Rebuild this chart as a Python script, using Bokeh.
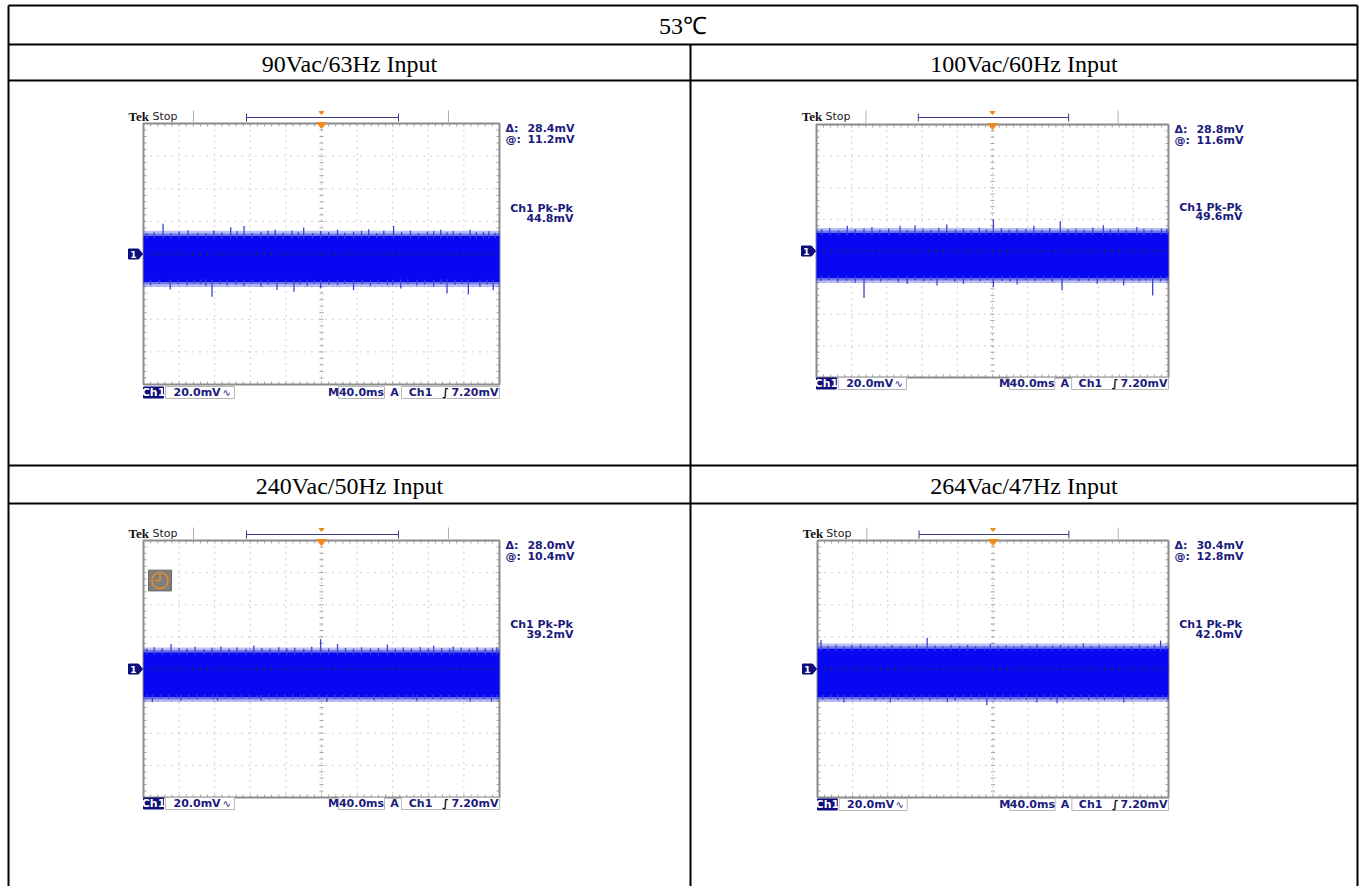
import numpy as np
from bokeh.plotting import figure
from bokeh.models import Range1d
from bokeh.core.properties import value
from bokeh.embed import file_html
from bokeh.resources import INLINE

# ---------------- data ----------------
table_title = "53℃"
panel_titles = ["90Vac/63Hz Input", "100Vac/60Hz Input", "240Vac/50Hz Input", "264Vac/47Hz Input"]
cursor_delta_mv = [28.4, 28.8, 28.0, 30.4]
cursor_at_mv = [11.2, 11.6, 10.4, 12.8]
pk_pk_mv = [44.8, 49.6, 39.2, 42.0]
ch1_scale_label = "20.0mV"
time_scale_label = "40.0ms"
trigger_level_label = "7.20mV"
mv_per_div = 20.0
ms_per_div = 40.0

# noise spikes above / below the dense band: time (ms), tip voltage (mV)
s1_up_t = [4, 12, 22, 31, 40, 50, 61, 70, 79, 88, 98, 105, 113, 122, 132, 140, 148, 157, 167, 174, 180, 190, 199, 208, 218, 226, 236, 245, 253, 262, 270, 281, 290, 300, 309, 319, 326, 334, 341, 348, 356, 367, 374, 382, 388, 395]
s1_up_v = [12.7, 13.4, 18.6, 12.9, 13.7, 14.6, 13.1, 12.8, 14.4, 13.2, 16.4, 13.9, 17.2, 12.9, 13.7, 14.2, 14.8, 13.0, 14.4, 13.6, 16.2, 12.8, 14.1, 13.5, 14.8, 13.1, 13.7, 14.3, 15.2, 12.9, 14.4, 17.2, 13.6, 14.4, 12.9, 13.7, 14.1, 14.8, 13.3, 14.1, 13.0, 14.8, 13.5, 13.7, 14.0, 13.1]
s1_dn_t = [8, 18, 30, 39, 49, 57, 64, 70, 77, 86, 94, 104, 113, 122, 132, 140, 150, 160, 169, 176, 184, 192, 199, 208, 218, 226, 236, 246, 255, 264, 274, 280, 289, 297, 307, 316, 326, 334, 341, 350, 358, 365, 378, 386, 393]
s1_dn_v = [-19.1, -18.2, -21.7, -18.6, -19.1, -18.0, -18.5, -19.6, -26.2, -18.4, -19.3, -18.9, -19.7, -18.3, -20.1, -18.7, -22.1, -18.5, -23.2, -18.9, -19.7, -18.2, -21.1, -18.8, -19.3, -18.4, -22.1, -18.6, -19.7, -18.3, -19.1, -18.8, -21.1, -18.5, -19.3, -18.7, -20.1, -18.4, -24.2, -18.9, -18.6, -24.8, -20.1, -18.7, -22.1]

s2_up_t = [6, 15, 25, 35, 44, 54, 63, 72, 82, 95, 103, 112, 121, 130, 139, 148, 158, 167, 176, 185, 193, 201, 210, 219, 228, 238, 247, 256, 265, 277, 286, 295, 304, 314, 326, 334, 343, 352, 364, 372, 381, 392, 398]
s2_up_v = [13.8, 14.6, 13.2, 15.9, 13.9, 14.3, 15.2, 13.6, 14.1, 15.9, 13.4, 16.3, 14.0, 13.5, 14.7, 16.7, 13.8, 14.2, 13.3, 14.9, 13.7, 19.8, 14.4, 13.6, 14.1, 13.9, 15.9, 13.5, 14.6, 18.8, 13.8, 14.3, 13.6, 14.8, 16.3, 13.7, 14.2, 13.4, 15.2, 14.0, 13.6, 14.2, 13.9]
s2_dn_t = [5, 14, 24, 34, 44, 54, 63, 73, 83, 93, 103, 112, 122, 130, 137, 147, 157, 167, 176, 186, 194, 201, 211, 220, 228, 238, 248, 258, 268, 279, 288, 298, 309, 319, 328, 338, 349, 358, 367, 374, 382, 391, 398]
s2_dn_v = [-19.0, -18.4, -19.6, -18.8, -20.1, -29.8, -18.6, -19.3, -18.2, -19.8, -20.7, -18.5, -19.1, -18.7, -21.8, -18.4, -19.5, -20.7, -18.6, -19.2, -18.3, -22.8, -18.9, -19.4, -21.2, -18.5, -19.0, -18.7, -19.6, -24.8, -18.4, -19.2, -18.8, -20.7, -18.6, -19.3, -21.8, -18.5, -19.0, -18.7, -28.1, -19.2, -18.6]

s3_up_t = [4, 12, 21, 31, 40, 49, 58, 68, 77, 87, 96, 105, 115, 124, 133, 142, 152, 161, 170, 180, 189, 199, 208, 218, 227, 236, 245, 255, 264, 274, 283, 292, 301, 311, 320, 326, 335, 344, 348, 357, 366, 375, 384, 392, 397]
s3_up_v = [12.6, 13.5, 12.9, 15.6, 13.1, 12.7, 13.8, 12.5, 13.2, 14.0, 12.8, 13.4, 12.6, 14.6, 13.0, 12.7, 13.6, 12.9, 13.3, 12.6, 13.9, 18.6, 12.8, 15.6, 13.2, 12.7, 13.5, 12.9, 13.1, 15.2, 12.6, 13.4, 12.8, 13.7, 12.9, 14.6, 13.0, 12.7, 14.0, 13.3, 12.8, 13.6, 12.9, 13.2, 13.5]
s3_dn_t = [4, 10, 19, 28, 37, 42, 51, 60, 69, 78, 83, 92, 101, 110, 119, 128, 132, 141, 150, 159, 168, 176, 180, 189, 197, 206, 215, 224, 233, 242, 250, 259, 268, 277, 286, 295, 303, 307, 316, 325, 334, 343, 352, 360, 367, 375, 383, 391, 397]
s3_dn_v = [-18.6, -20.6, -18.3, -18.9, -18.2, -19.8, -18.5, -18.8, -18.1, -18.7, -19.8, -18.3, -18.9, -18.4, -18.6, -18.2, -19.8, -18.5, -18.7, -18.3, -18.9, -18.4, -18.7, -18.2, -18.8, -20.6, -18.4, -18.6, -18.2, -18.9, -18.3, -19.4, -18.6, -18.2, -18.8, -18.4, -18.7, -19.8, -18.3, -18.6, -18.9, -18.2, -18.5, -18.8, -20.4, -18.3, -18.7, -20.4, -18.5]

s4_up_t = [4, 12, 21, 30, 39, 49, 58, 67, 76, 85, 95, 104, 113, 125, 134, 143, 152, 162, 171, 180, 190, 197, 206, 215, 224, 233, 242, 250, 259, 268, 277, 286, 295, 303, 312, 321, 330, 340, 349, 358, 367, 376, 384, 391, 397]
s4_up_v = [18.1, 14.6, 15.1, 14.2, 14.9, 15.2, 14.4, 14.8, 14.1, 15.0, 14.5, 14.3, 15.1, 19.4, 14.6, 14.2, 14.9, 14.4, 15.0, 14.3, 13.9, 15.6, 14.5, 14.8, 14.2, 14.9, 14.4, 15.2, 14.1, 14.7, 15.0, 14.3, 14.8, 16.0, 14.4, 14.9, 14.2, 14.7, 14.6, 14.3, 15.1, 14.5, 14.9, 17.7, 14.4]
s4_dn_t = [6, 15, 23, 30, 39, 48, 57, 66, 75, 83, 92, 101, 110, 119, 128, 137, 148, 157, 166, 175, 184, 193, 202, 211, 220, 229, 238, 250, 258, 266, 273, 282, 291, 300, 309, 318, 327, 336, 349, 358, 367, 376, 385, 394, 399]
s4_dn_v = [-19.2, -18.6, -19.5, -20.8, -18.9, -19.3, -18.5, -19.7, -18.8, -20.8, -19.1, -18.6, -19.4, -18.9, -19.6, -18.7, -20.8, -19.8, -18.8, -19.3, -18.6, -22.6, -19.0, -18.7, -19.5, -18.9, -19.2, -20.8, -18.6, -19.4, -21.4, -18.8, -19.1, -18.6, -19.5, -18.9, -19.3, -18.7, -20.8, -19.0, -18.6, -19.4, -18.8, -18.7, -19.1]

spikes = [
    (s1_up_t, s1_up_v, s1_dn_t, s1_dn_v),
    (s2_up_t, s2_up_v, s2_dn_t, s2_dn_v),
    (s3_up_t, s3_up_v, s3_dn_t, s3_dn_v),
    (s4_up_t, s4_up_v, s4_dn_t, s4_dn_v),
]

# ---------------- layout (page pixels; the Bokeh page has no body margin) ----------------
W, H = 1359, 886
PX0, PY0 = 0, 0
XL, XR, XM = 8, 1357, 690
YTOP = 5
ROW_LINES = [44, 80, 465, 503]
# graticule box of every scope screenshot: left, right, top, bottom, status-row y, bottom-row y
SCOPES = [
    dict(L=143, R=499, T=123, B=384, top_y=116, bot_y=392, clock=False),
    dict(L=816, R=1168, T=124, B=377, top_y=116, bot_y=383, clock=False),
    dict(L=143, R=499, T=540, B=797, top_y=533, bot_y=803, clock=True),
    dict(L=817, R=1168, T=540, B=797, top_y=533, bot_y=804, clock=False),
]

NAVY = "#1b1b7d"
GRID = "#a3a3a3"
BAND = "#0707f2"
SPIKE = "#3a45d4"
FRINGE = "#3b48dc"
ORANGE = "#ee8a22"

p = figure(width=W, height=H, x_range=Range1d(PX0, PX0 + W), y_range=Range1d(PY0 + H, PY0),
           x_axis_type=None, y_axis_type=None, output_backend="svg", toolbar_location=None,
           min_border=0, outline_line_color=None, background_fill_color="white",
           border_fill_color="white")
p.grid.visible = False


def txt(x, y, s, size, color="black", font="DejaVu Sans", style="normal", align="left",
        baseline="middle"):
    p.text(x=[x], y=[y], text=[s], text_font=value(font), text_font_size=value(f"{size}px"),
           text_font_style=style, text_color=color, text_align=align, text_baseline=baseline)


# ---------------- table frame ----------------
hy = [YTOP] + ROW_LINES
p.segment(x0=[XL] * len(hy), y0=hy, x1=[XR] * len(hy), y1=hy, line_color="black", line_width=2)
p.segment(x0=[XL, XR, XM], y0=[YTOP, YTOP, ROW_LINES[0]], x1=[XL, XR, XM], y1=[PY0 + H] * 3,
          line_color="black", line_width=2)

serif = "Liberation Serif"
txt((XL + XR) / 2, 25, table_title, 24, font=serif, align="center")
cx = [(XL + XM) / 2, (XM + XR) / 2, (XL + XM) / 2, (XM + XR) / 2]
cy = [63, 63, 485, 485]
for i in range(4):
    txt(cx[i], cy[i], panel_titles[i], 24, font=serif, align="center")


# ---------------- scope screenshots ----------------
def draw_scope(i, g):
    L, R, T, B = g["L"], g["R"], g["T"], g["B"]
    xc, yc = (L + R) / 2, (T + B) / 2
    sx, sy = (R - L) / 356.0, (B - T) / 260.0

    # ranges of this screen: 10 div of time, 8 div of voltage over the graticule
    ms_px = 10 * ms_per_div / (R - L)
    mv_px = 8 * mv_per_div / (B - T)
    top_mv = 4 * mv_per_div
    tn, vn = f"t{i}", f"v{i}"
    p.extra_x_ranges = {**p.extra_x_ranges, tn: Range1d((PX0 - L) * ms_px, (PX0 + W - L) * ms_px)}
    p.extra_y_ranges = {**p.extra_y_ranges,
                        vn: Range1d(top_mv - (PY0 + H - T) * mv_px, top_mv - (PY0 - T) * mv_px)}

    # graticule (under the trace)
    vx = [L + k * (R - L) / 10 for k in range(1, 10)]
    hyy = [T + k * (B - T) / 8 for k in range(1, 8)]
    p.segment(x0=vx, y0=[T] * 9, x1=vx, y1=[B] * 9, line_color=GRID, line_dash="1 5", line_width=1)
    p.segment(x0=[L] * 7, y0=hyy, x1=[R] * 7, y1=hyy, line_color=GRID, line_dash="1 6", line_width=1)
    fx = [L + j * (R - L) / 50 for j in range(1, 50)]
    fy = [T + j * (B - T) / 40 for j in range(1, 40)]
    n, m = len(fx), len(fy)
    p.segment(x0=fx + fx, y0=[T] * n + [B - 3] * n, x1=fx + fx, y1=[T + 3] * n + [B] * n,
              line_color=GRID, line_width=1)
    p.segment(x0=[L] * m + [R - 3] * m + [xc - 2] * m, y0=fy * 3,
              x1=[L + 3] * m + [R] * m + [xc + 2] * m, y1=fy * 3, line_color=GRID, line_width=1)
    p.quad(left=[L], right=[R], top=[T], bottom=[B], fill_color=None, line_color="#8c8c8c",
           line_width=2)

    # trace: dense band between the cursors, a ragged fringe, plus the spikes
    up_t, up_v, dn_t, dn_v = spikes[i]
    hi = cursor_at_mv[i]
    lo = cursor_at_mv[i] - cursor_delta_mv[i]
    span = 10 * ms_per_div
    p.quad(left=[0, 0], right=[span, span], bottom=[hi, lo - 3.0], top=[hi + 3.0, lo],
           fill_color=FRINGE, fill_alpha=0.35, line_color=None, x_range_name=tn, y_range_name=vn)
    p.quad(left=[0, 0], right=[span, span], bottom=[hi, lo - 1.4], top=[hi + 1.4, lo],
           fill_color=FRINGE, fill_alpha=0.6, line_color=None, x_range_name=tn, y_range_name=vn)
    p.quad(left=[0], right=[span], bottom=[lo], top=[hi], fill_color=BAND,
           line_color=None, x_range_name=tn, y_range_name=vn)
    p.segment(x0=up_t, y0=[hi - 1.5] * len(up_t), x1=up_t, y1=up_v, line_color=SPIKE,
              line_width=1.3, x_range_name=tn, y_range_name=vn)
    p.segment(x0=dn_t, y0=[lo + 1.5] * len(dn_t), x1=dn_t, y1=dn_v, line_color=SPIKE,
              line_width=1.3, x_range_name=tn, y_range_name=vn)

    # centre cross line drawn over the trace
    p.segment(x0=fx, y0=[yc - 2] * n, x1=fx, y1=[yc + 2] * n, line_color="#23236a", line_width=1)
    p.segment(x0=[L], y0=[yc], x1=[R], y1=[yc], line_color="#23236a", line_dash="1 6", line_width=1)

    # status row
    ty = g["top_y"]
    txt(L - 15 * sx, ty, "Tek", 13, font=serif, style="bold", color="#111111")
    txt(L + 9 * sx, ty, "Stop", 11, color="#222222")
    gx = [L + 50 * sx, L + 305 * sx]
    p.segment(x0=gx, y0=[ty - 6] * 2, x1=gx, y1=[T - 1] * 2, line_color="#b0b0b0", line_width=1)
    bx0, bx1 = L + 103 * sx, L + 255 * sx
    p.segment(x0=[bx0, bx0, bx1], y0=[ty + 1, ty - 3, ty - 3], x1=[bx1, bx0, bx1],
              y1=[ty + 1, ty + 5, ty + 5], line_color="#3a3a8a", line_width=1)
    p.patches(xs=[[xc - 2.5, xc + 2.5, xc], [xc - 5, xc + 5, xc]],
              ys=[[ty - 5, ty - 5, ty - 2], [T - 1, T - 1, T + 5]],
              fill_color=ORANGE, line_color=ORANGE)

    # channel-1 ground marker
    p.quad(left=[L - 15], right=[L - 5], top=[yc - 5], bottom=[yc + 5], fill_color="#0c0c7a",
           line_color="#0c0c7a")
    p.patch(x=[L - 5, L - 1, L - 5], y=[yc - 5, yc, yc + 5], fill_color="#0c0c7a",
            line_color="#0c0c7a")
    txt(L - 10, yc + 0.5, "1", 9, color="white", style="bold", align="center")

    # cursor and measurement readouts
    rx = R + 6
    vr = R + 75
    txt(rx, T + 5 * sy, "Δ:", 11, color=NAVY, style="bold")
    txt(rx, T + 16 * sy, "@:", 11, color=NAVY, style="bold")
    txt(vr, T + 5 * sy, f"{cursor_delta_mv[i]:.1f}mV", 11, color=NAVY, style="bold", align="right")
    txt(vr, T + 16 * sy, f"{cursor_at_mv[i]:.1f}mV", 11, color=NAVY, style="bold", align="right")
    txt(R + 42, T + 85 * sy, "Ch1 Pk-Pk", 11, color=NAVY, style="bold", align="center")
    txt(R + 74, T + 95 * sy, f"{pk_pk_mv[i]:.1f}mV", 11, color=NAVY, style="bold", align="right")

    # bottom settings row
    by = g["bot_y"]
    p.quad(left=[L], right=[L + 20 * sx], top=[by - 5.5], bottom=[by + 5.5], fill_color="#0c0c7a",
           line_color="#0c0c7a")
    txt(L + 10 * sx, by, "Ch1", 11, color="white", style="bold", align="center")
    boxes_l = [L + 22 * sx, L + 195 * sx, L + 258 * sx]
    boxes_r = [L + 91 * sx, L + 241 * sx, R]
    p.quad(left=boxes_l, right=boxes_r, top=[by - 6] * 3, bottom=[by + 6] * 3, fill_color="white",
           line_color="#b8b8b8", line_width=1)
    txt(L + 30 * sx, by, ch1_scale_label, 11, color=NAVY, style="bold")
    txt(L + 79 * sx, by, "∿", 10, color=NAVY)
    txt(L + 190 * sx, by, "M", 11, color=NAVY, style="bold", align="center")
    txt(L + 218 * sx, by, time_scale_label, 11, color=NAVY, style="bold", align="center")
    txt(L + 251 * sx, by, "A", 11, color=NAVY, style="bold", align="center")
    txt(L + 277 * sx, by, "Ch1", 11, color=NAVY, style="bold", align="center")
    txt(L + 302 * sx, by, "∫", 11, color="#111111", style="bold", align="center")
    txt(R - 1, by, trigger_level_label, 11, color=NAVY, style="bold", align="right")

    if g["clock"]:
        qx0, qx1, qy0, qy1 = L + 5 * sx, L + 28 * sx, T + 30 * sy, T + 51 * sy
        ccx, ccy = (qx0 + qx1) / 2, (qy0 + qy1) / 2
        p.quad(left=[qx0], right=[qx1], top=[qy0], bottom=[qy1], fill_color="#7e7e7e",
               line_color="#6a6a6a")
        p.scatter(x=[ccx], y=[ccy], marker="circle", size=16, fill_color=None,
                  line_color=ORANGE, line_width=1.5)
        p.segment(x0=[ccx, ccx], y0=[ccy, ccy], x1=[ccx, ccx - 5], y1=[ccy - 6, ccy],
                  line_color=ORANGE, line_width=1.5)


for i, g in enumerate(SCOPES):
    draw_scope(i, g)

open("out.html", "w").write(file_html(p, INLINE))
